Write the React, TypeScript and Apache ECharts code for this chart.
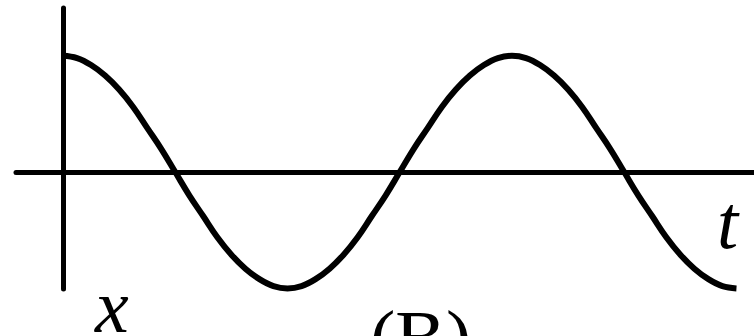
import React, { useEffect, useRef } from "react";
import * as echarts from "echarts";

// time in 32nds of a period, displacement
const timeSteps = [
  0, 1, 2, 3, 4, 5, 6, 7, 8, 9, 10, 11, 12, 13, 14, 15, 16,
  17, 18, 19, 20, 21, 22, 23, 24, 25, 26, 27, 28, 29, 30, 31, 32,
  33, 34, 35, 36, 37, 38, 39, 40, 41, 42, 43, 44, 45, 46, 47, 48,
];
const displacement = [
  1, 0.98, 0.92, 0.83, 0.71, 0.56, 0.38, 0.2, 0, -0.2, -0.38, -0.56, -0.71, -0.83, -0.92, -0.98, -1,
  -0.98, -0.92, -0.83, -0.71, -0.56, -0.38, -0.2, 0, 0.2, 0.38, 0.56, 0.71, 0.83, 0.92, 0.98, 1,
  0.98, 0.92, 0.83, 0.71, 0.56, 0.38, 0.2, 0, -0.2, -0.38, -0.56, -0.71, -0.83, -0.92, -0.98, -1,
];
const axisLabels = { time: "t", disp: "x", caption: "(B)" };

export default function App() {
  const ref = useRef<HTMLDivElement>(null);
  useEffect(() => {
    document.body.style.margin = "0";
    const chart = echarts.init(ref.current!, null, { renderer: "svg" });
    const font = "italic 76px 'Liberation Serif', 'DejaVu Serif', serif";
    chart.setOption({
      animation: false,
      grid: { left: 16, right: 0, top: 8, bottom: 47 },
      xAxis: {
        type: "value",
        min: -3.35,
        max: 49.25,
        axisLine: { show: true, onZero: true, lineStyle: { color: "#000", width: 5 } },
        axisTick: { show: false },
        axisLabel: { show: false },
        splitLine: { show: false },
      },
      yAxis: {
        type: "value",
        min: -1.005,
        max: 1.41,
        axisLine: { show: true, onZero: true, lineStyle: { color: "#000", width: 5 } },
        axisTick: { show: false },
        axisLabel: { show: false },
        splitLine: { show: false },
      },
      series: [
        {
          type: "line",
          data: timeSteps.map((t, i) => [t, displacement[i]]),
          smooth: 0.4,
          symbol: "none",
          lineStyle: { color: "#000", width: 6, cap: "butt", join: "round" },
        },
      ],
      graphic: [
        { type: "text", x: 717, y: 222, style: { text: axisLabels.time, font, fill: "#000", textAlign: "left", textVerticalAlign: "middle" } },
        { type: "text", x: 95, y: 306, style: { text: axisLabels.disp, font, fill: "#000", textAlign: "left", textVerticalAlign: "middle" } },
        { type: "text", x: 370, y: 337, style: { text: axisLabels.caption, font: "76px 'Liberation Serif', 'DejaVu Serif', serif", fill: "#000", textAlign: "left", textVerticalAlign: "middle" } },
      ],
    });
    return () => chart.dispose();
  }, []);
  return <div ref={ref} style={{ width: 754, height: 336 }} />;
}
